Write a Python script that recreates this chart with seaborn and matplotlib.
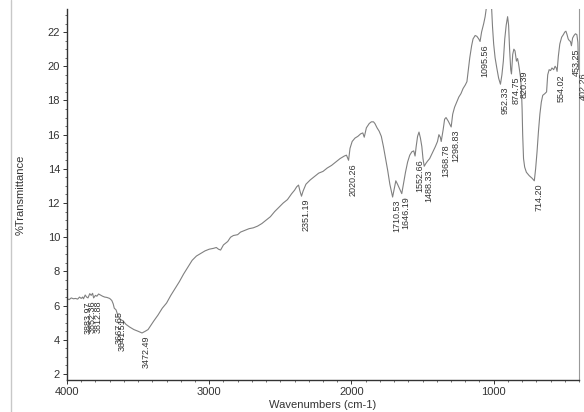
import numpy as np
import matplotlib
matplotlib.use('Agg')
import matplotlib.pyplot as plt
from matplotlib.lines import Line2D
from matplotlib.ticker import MultipleLocator
import seaborn as sns

# spectrum (wavenumber, %T)
wavenumbers = [
    4000, 3985, 3970, 3955, 3940, 3925, 3912, 3900, 3890, 3883.97, 3872, 3862, 3852.36, 3840,
    3830, 3820, 3812.88, 3800, 3790, 3778, 3765, 3750, 3735, 3720, 3700, 3685, 3675, 3667.65,
    3655, 3641.51, 3625, 3605, 3585, 3560, 3530, 3500, 3472.49, 3450, 3430, 3410, 3390, 3360,
    3330, 3300, 3270, 3240, 3210, 3180, 3150, 3120, 3090, 3060, 3030, 3000, 2970, 2950, 2935,
    2920, 2900, 2870, 2850, 2830, 2800, 2780, 2750, 2720, 2690, 2660, 2630, 2600, 2570, 2540,
    2510, 2480, 2450, 2420, 2400, 2385, 2372, 2362, 2351.19, 2340, 2320, 2290, 2260, 2230, 2200,
    2170, 2140, 2110, 2080, 2050, 2035, 2020.26, 2010, 1995, 1975, 1955, 1935, 1920, 1910, 1895,
    1875, 1860, 1845, 1835, 1820, 1805, 1790, 1775, 1760, 1745, 1730, 1720, 1710.53, 1700, 1688,
    1676, 1660, 1646.19, 1635, 1620, 1605, 1590, 1575, 1562, 1552.66, 1545, 1535, 1525, 1515,
    1505, 1497, 1488.33, 1478, 1465, 1450, 1430, 1410, 1395, 1385, 1375, 1368.78, 1355, 1345,
    1335, 1320, 1308, 1298.83, 1288, 1275, 1260, 1245, 1230, 1215, 1200, 1188, 1178, 1168, 1155,
    1145, 1130, 1118, 1105, 1095.56, 1085, 1070, 1060, 1050, 1030, 1015, 1008, 1000, 990, 978,
    965, 952.33, 942, 932, 922, 912, 902, 895, 888, 880, 874.75, 866, 858, 850, 840, 832, 826,
    820.39, 812, 805, 800, 796, 790, 782, 770, 750, 730, 714.20, 705, 695, 685, 675, 665, 655,
    640, 628, 620, 610, 600, 590, 578, 568, 560, 554.02, 545, 535, 522, 510, 500, 492, 484, 476,
    468, 460, 453.25, 445, 435, 425, 415, 408, 402.26, 400,
]
transmittance = [
    6.40, 6.35, 6.45, 6.40, 6.42, 6.38, 6.50, 6.42, 6.50, 6.40, 6.62, 6.50, 6.45, 6.70,
    6.60, 6.72, 6.45, 6.60, 6.55, 6.68, 6.62, 6.55, 6.50, 6.48, 6.42, 6.30, 6.10, 5.85,
    5.75, 5.40, 5.20, 5.10, 4.90, 4.75, 4.60, 4.50, 4.40, 4.50, 4.60, 4.85, 5.10, 5.45,
    5.85, 6.15, 6.60, 7.00, 7.40, 7.85, 8.25, 8.65, 8.90, 9.05, 9.20, 9.30, 9.35, 9.40, 9.30,
    9.25, 9.55, 9.75, 10.00, 10.10, 10.15, 10.30, 10.40, 10.50, 10.55, 10.65, 10.80, 11.00, 11.20, 11.50,
    11.75, 12.00, 12.20, 12.55, 12.75, 12.95, 13.05, 12.70, 12.40, 12.70, 13.10, 13.35, 13.55, 13.75, 13.85,
    14.05, 14.20, 14.40, 14.60, 14.75, 14.80, 14.50, 15.20, 15.60, 15.80, 15.90, 16.05, 16.10, 15.85, 16.40,
    16.65, 16.75, 16.75, 16.65, 16.40, 16.20, 15.90, 15.30, 14.60, 13.90, 13.10, 12.70, 12.35, 12.80, 13.30,
    13.10, 12.80, 12.55, 13.10, 13.80, 14.40, 14.80, 15.00, 15.05, 14.75, 15.30, 15.90, 16.15, 15.80,
    15.30, 14.60, 14.15, 14.30, 14.45, 14.60, 14.95, 15.30, 15.60, 16.00, 15.85, 15.60, 16.30, 16.90,
    17.00, 16.80, 16.60, 16.45, 17.20, 17.60, 17.90, 18.20, 18.40, 18.70, 18.90, 19.10, 19.80, 20.50, 21.20,
    21.60, 21.80, 21.75, 21.60, 21.45, 22.00, 22.50, 22.90, 23.50, 24.00, 23.50, 22.30, 21.30, 20.50, 19.90,
    19.30, 18.95, 19.50, 20.30, 21.60, 22.40, 22.90, 22.40, 21.00, 19.80, 19.55, 20.70, 21.00, 20.90, 20.30, 20.45, 20.20,
    19.90, 19.40, 18.70, 17.50, 16.00, 14.60, 14.10, 13.80, 13.60, 13.45, 13.30, 14.00, 15.00, 16.20, 17.20, 17.90, 18.30,
    18.40, 18.50, 19.50, 19.80, 19.75, 19.90, 19.80, 20.00, 19.90, 19.70, 20.60, 21.30, 21.70, 21.85, 22.00, 22.05, 21.85, 21.60,
    21.50, 21.45, 21.20, 21.65, 21.80, 21.90, 21.85, 21.40, 19.80, 19.90,
]

peak_labels = [3883.97, 3852.36, 3812.88, 3667.65, 3641.51, 3472.49, 2351.19, 2020.26,
               1710.53, 1646.19, 1552.66, 1488.33, 1368.78, 1298.83, 1095.56, 952.33,
               874.75, 820.39, 714.20, 554.02, 453.25, 402.26]

sns.set_style('ticks')
plt.rcParams['font.family'] = ['Liberation Sans', 'DejaVu Sans']

fig = plt.figure(figsize=(5.84, 4.12), dpi=100)
ax = fig.add_axes([67 / 584, 0.0777, 512 / 584, 0.9005])

sns.lineplot(x=wavenumbers, y=transmittance, ax=ax, color='#808080', linewidth=0.8,
             sort=False, estimator=None)

ax.set_xlim(4000, 400)
ax.set_ylim(1.65, 23.35)
ax.xaxis.set_major_locator(MultipleLocator(1000))
ax.xaxis.set_minor_locator(MultipleLocator(100))
ax.yaxis.set_major_locator(MultipleLocator(2))
ax.yaxis.set_minor_locator(MultipleLocator(0.5))
ax.tick_params(which='major', length=3, width=0.7, labelsize=8, colors='#333333', pad=2)
ax.tick_params(which='minor', length=1.5, width=0.6, colors='#555555')
ax.set_xlabel('Wavenumbers (cm-1)', fontsize=8, color='#333333', labelpad=2)
ax.set_ylabel('%Transmittance', fontsize=8, color='#333333', labelpad=16)

ax.spines['top'].set_visible(False)
for side in ['left', 'bottom']:
    ax.spines[side].set_color('#333333')
    ax.spines[side].set_linewidth(1.0)
ax.spines['right'].set_color('#999999')
ax.spines['right'].set_linewidth(0.8)

wn_sorted = np.array(wavenumbers)[::-1]
t_sorted = np.array(transmittance)[::-1]
for w in peak_labels:
    t = np.interp(w, wn_sorted, t_sorted)
    ax.annotate(f'{w:.2f}', xy=(w, t), xytext=(0, -2), textcoords='offset points',
                rotation=90, ha='left', va='top', fontsize=6.5, color='#333333',
                annotation_clip=False)

# faint scan edge on the left
fig.add_artist(Line2D([11 / 584, 11 / 584], [0, 1], color='#c8c8c8', linewidth=1.0))

fig.savefig('out.png', dpi=100)
